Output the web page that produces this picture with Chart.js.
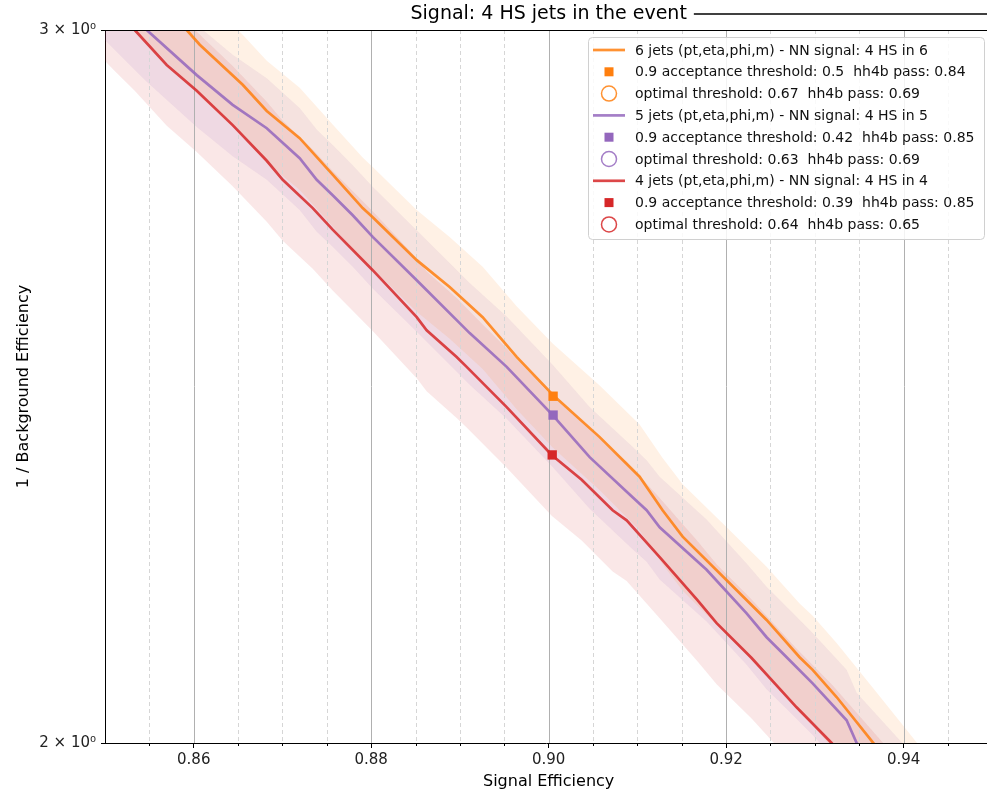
<!DOCTYPE html>
<html>
<head>
<meta charset="utf-8">
<script src="https://cdn.jsdelivr.net/npm/chart.js@4.4.1/dist/chart.umd.min.js"></script>
<style>
  html, body { margin: 0; padding: 0; background: #fff; }
</style>
</head>
<body>
<canvas id="roc" width="987" height="793"></canvas>
<script>
// ROC curves: 1/background efficiency vs signal efficiency, zoomed window

// ====== Axes ======
const X_MIN = 0.85;
const X_MAX = 0.9494;
const Y_MIN = 2;
const Y_MAX = 3;
const X_TICKS = [0.855, 0.86, 0.865, 0.87, 0.875, 0.88, 0.885, 0.89, 0.895, 0.9,
                 0.905, 0.91, 0.915, 0.92, 0.925, 0.93, 0.935, 0.94, 0.945];
const X_MAJOR = [0.86, 0.88, 0.9, 0.92, 0.94];
const Y_TICKS = [2, 3];

const TITLE = "Signal: 4 HS jets in the event";
const X_LABEL = "Signal Efficiency";
const Y_LABEL = "1 / Background Efficiency";

// ====== Series ======
// 6 jets
const EFF_6 = [0.85132, 0.85696, 0.85921, 0.86068, 0.86552, 0.86823, 0.87194, 0.87566, 0.87904,
               0.88017, 0.88513, 0.88884, 0.89256, 0.89639, 0.90045, 0.90575, 0.91025, 0.91284,
               0.91510, 0.92006, 0.92456, 0.92828, 0.92975, 0.93245, 0.93651, 0.94304];
const REJ_6 = [3.122, 3.034, 3.000, 2.975, 2.908, 2.865, 2.821, 2.763, 2.711,
               2.697, 2.632, 2.592, 2.548, 2.491, 2.438, 2.380, 2.327, 2.283,
               2.249, 2.194, 2.145, 2.100, 2.085, 2.053, 2.001, 1.920];
const ERR_6 = [0.091, 0.088, 0.087, 0.086, 0.084, 0.083, 0.082, 0.080, 0.079,
               0.078, 0.076, 0.075, 0.074, 0.073, 0.072, 0.071, 0.070, 0.069,
               0.068, 0.067, 0.066, 0.065, 0.065, 0.064, 0.063, 0.061];

// 5 jets
const EFF_5 = [0.84682, 0.85245, 0.85470, 0.86034, 0.86439, 0.86823, 0.87194, 0.87386, 0.87566,
               0.87792, 0.88017, 0.88513, 0.89110, 0.89527, 0.90045, 0.90462, 0.90946, 0.91104,
               0.91251, 0.91780, 0.92231, 0.92456, 0.92682, 0.92975, 0.93358, 0.93471, 0.94203];
const REJ_5 = [3.122, 3.034, 3.000, 2.924, 2.875, 2.837, 2.789, 2.755, 2.731,
               2.700, 2.667, 2.602, 2.525, 2.477, 2.410, 2.353, 2.300, 2.283,
               2.261, 2.207, 2.153, 2.124, 2.100, 2.069, 2.026, 2.000, 1.920];
const ERR_5 = [0.091, 0.088, 0.087, 0.085, 0.083, 0.082, 0.081, 0.080, 0.079,
               0.078, 0.077, 0.075, 0.073, 0.072, 0.070, 0.068, 0.067, 0.066,
               0.066, 0.064, 0.062, 0.062, 0.061, 0.060, 0.059, 0.058, 0.056];

// 4 jets
const EFF_4 = [0.84546, 0.85110, 0.85335, 0.85696, 0.86034, 0.86439, 0.86823, 0.87003, 0.87341,
               0.87566, 0.88017, 0.88513, 0.88625, 0.88963, 0.89076, 0.89527, 0.90034, 0.90372,
               0.90721, 0.90879, 0.91251, 0.91679, 0.91893, 0.92287, 0.92794, 0.93189, 0.93900];
const REJ_4 = [3.122, 3.034, 3.000, 2.941, 2.898, 2.842, 2.785, 2.755, 2.711,
               2.678, 2.617, 2.548, 2.529, 2.491, 2.477, 2.421, 2.356, 2.323,
               2.283, 2.270, 2.223, 2.169, 2.141, 2.099, 2.041, 2.000, 1.920];
const ERR_4 = [0.106, 0.103, 0.102, 0.100, 0.099, 0.097, 0.095, 0.094, 0.092,
               0.091, 0.089, 0.087, 0.086, 0.085, 0.084, 0.082, 0.080, 0.079,
               0.078, 0.077, 0.076, 0.074, 0.073, 0.071, 0.069, 0.068, 0.065];

// 0.9 acceptance working points (6, 5, 4 jets)
const WP_EFF = [0.9005, 0.9005, 0.9004];
const WP_REJ = [2.436, 2.410, 2.356];

const CURVE_LABELS = [
  "6 jets (pt,eta,phi,m) - NN signal: 4 HS in 6",
  "5 jets (pt,eta,phi,m) - NN signal: 4 HS in 5",
  "4 jets (pt,eta,phi,m) - NN signal: 4 HS in 4"
];
const WP_LABELS = [
  "0.9 acceptance threshold: 0.5  hh4b pass: 0.84",
  "0.9 acceptance threshold: 0.42  hh4b pass: 0.85",
  "0.9 acceptance threshold: 0.39  hh4b pass: 0.85"
];
const OPT_LABELS = [
  "optimal threshold: 0.67  hh4b pass: 0.69",
  "optimal threshold: 0.63  hh4b pass: 0.69",
  "optimal threshold: 0.64  hh4b pass: 0.65"
];

// tab:orange, tab:purple, tab:red
const RGB = ["255, 127, 14", "148, 103, 189", "214, 39, 40"];

const FONT = "'DejaVu Sans', sans-serif";

// ====== Build datasets ======
const curves = [
  { eff: EFF_6, rej: REJ_6, err: ERR_6 },
  { eff: EFF_5, rej: REJ_5, err: ERR_5 },
  { eff: EFF_4, rej: REJ_4, err: ERR_4 }
];

const datasets = [];

curves.forEach((c, k) => {
  const band = `rgba(${RGB[k]}, 0.11)`;
  datasets.push({
    label: "band hi " + k,
    data: c.eff.map((x, i) => ({ x, y: c.rej[i] + c.err[i] })),
    borderWidth: 0, pointRadius: 0, fill: false, order: 3,
    backgroundColor: band
  });
  datasets.push({
    label: "band lo " + k,
    data: c.eff.map((x, i) => ({ x, y: c.rej[i] - c.err[i] })),
    borderWidth: 0, pointRadius: 0, fill: "-1", order: 3,
    backgroundColor: band
  });
});

curves.forEach((c, k) => {
  datasets.push({
    label: CURVE_LABELS[k],
    data: c.eff.map((x, i) => ({ x, y: c.rej[i] })),
    borderColor: `rgba(${RGB[k]}, 0.85)`,
    borderWidth: 2.7,
    pointRadius: 0,
    fill: false,
    order: 2
  });
});

WP_EFF.forEach((x, k) => {
  datasets.push({
    label: WP_LABELS[k],
    data: [{ x, y: WP_REJ[k] }],
    showLine: false,
    pointStyle: "rect",
    pointRadius: 6.6,
    pointBorderWidth: 0,
    pointBackgroundColor: `rgb(${RGB[k]})`,
    order: 1
  });
  // optimal thresholds fall outside this zoomed window
  datasets.push({
    label: OPT_LABELS[k],
    data: [],
    showLine: false,
    pointStyle: "circle",
    order: 1
  });
});

const isMajor = (v) => X_MAJOR.some((m) => Math.abs(m - v) < 1e-9);

// ====== Decorations: grid, title, legend ======
const decor = {
  id: "decor",
  beforeDatasetsDraw(chart) {
    const { ctx, chartArea: a, scales: { x } } = chart;
    ctx.save();
    for (const v of X_TICKS) {
      const px = Math.round(x.getPixelForValue(v)) + 0.5;
      ctx.beginPath();
      if (isMajor(v)) {
        ctx.setLineDash([]);
        ctx.strokeStyle = "#b0b0b0";
      } else {
        ctx.setLineDash([4, 3]);
        ctx.strokeStyle = "#d6d6d6";
      }
      ctx.lineWidth = 1;
      ctx.moveTo(px, a.top);
      ctx.lineTo(px, a.bottom);
      ctx.stroke();
    }
    ctx.restore();
  },
  afterDraw(chart) {
    const { ctx, chartArea: a, scales: { x } } = chart;
    ctx.save();

    // minor tick marks
    ctx.strokeStyle = "#000";
    ctx.lineWidth = 1;
    for (const v of X_TICKS) {
      if (isMajor(v)) continue;
      const px = Math.round(x.getPixelForValue(v)) + 0.5;
      ctx.beginPath();
      ctx.moveTo(px, a.bottom);
      ctx.lineTo(px, a.bottom + 3);
      ctx.stroke();
    }

    // top spine
    ctx.beginPath();
    ctx.moveTo(a.left, a.top + 0.5);
    ctx.lineTo(a.right, a.top + 0.5);
    ctx.stroke();

    // title + rule after it
    const cx = (a.left + x.getPixelForValue(0.95)) / 2;
    ctx.fillStyle = "#000";
    ctx.font = `19px ${FONT}`;
    ctx.textAlign = "center";
    ctx.textBaseline = "middle";
    ctx.fillText(TITLE, cx, 14);
    const tw = ctx.measureText(TITLE).width;
    ctx.lineWidth = 1.5;
    ctx.beginPath();
    ctx.moveTo(cx + tw / 2 + 7, 14);
    ctx.lineTo(chart.width, 14);
    ctx.stroke();

    // axis titles
    ctx.font = `16px ${FONT}`;
    ctx.fillText(X_LABEL, cx, 782);
    ctx.save();
    ctx.translate(24, (a.top + a.bottom) / 2);
    ctx.rotate(-Math.PI / 2);
    ctx.fillText(Y_LABEL, 0, 0);
    ctx.restore();

    // legend
    const lx = 588.5, ly = 37.5, lw = 396, lh = 202, r = 4;
    ctx.beginPath();
    ctx.moveTo(lx + r, ly);
    ctx.arcTo(lx + lw, ly, lx + lw, ly + lh, r);
    ctx.arcTo(lx + lw, ly + lh, lx, ly + lh, r);
    ctx.arcTo(lx, ly + lh, lx, ly, r);
    ctx.arcTo(lx, ly, lx + lw, ly, r);
    ctx.closePath();
    ctx.fillStyle = "rgba(255,255,255,0.85)";
    ctx.fill();
    ctx.strokeStyle = "#d0d0d0";
    ctx.lineWidth = 1;
    ctx.stroke();

    ctx.font = `14px ${FONT}`;
    ctx.textAlign = "left";
    ctx.textBaseline = "middle";
    const rowH = 21.8;
    let row = 0;
    for (let k = 0; k < 3; k++) {
      const entries = [
        { kind: "line", text: CURVE_LABELS[k] },
        { kind: "square", text: WP_LABELS[k] },
        { kind: "circle", text: OPT_LABELS[k] }
      ];
      for (const e of entries) {
        const y = 50 + row * rowH;
        const hx = 609;
        if (e.kind === "line") {
          ctx.strokeStyle = `rgba(${RGB[k]}, 0.85)`;
          ctx.lineWidth = 2.7;
          ctx.beginPath();
          ctx.moveTo(hx - 16, y);
          ctx.lineTo(hx + 16, y);
          ctx.stroke();
        } else if (e.kind === "square") {
          ctx.fillStyle = `rgb(${RGB[k]})`;
          ctx.fillRect(hx - 4.5, y - 4.5, 9, 9);
        } else {
          ctx.strokeStyle = `rgba(${RGB[k]}, 0.85)`;
          ctx.lineWidth = 1.5;
          ctx.beginPath();
          ctx.arc(hx, y, 7.5, 0, Math.PI * 2);
          ctx.stroke();
        }
        ctx.fillStyle = "#111";
        ctx.fillText(e.text, 635, y + 1);
        row++;
      }
    }
    ctx.restore();
  }
};

// ====== Chart ======
new Chart(document.getElementById("roc").getContext("2d"), {
  type: "line",
  data: { datasets },
  options: {
    responsive: false,
    animation: false,
    layout: { autoPadding: false, padding: { top: 30, right: 0, left: 0, bottom: 0 } },
    plugins: {
      legend: { display: false },
      tooltip: { enabled: false },
      filler: { drawTime: "beforeDatasetsDraw" }
    },
    scales: {
      x: {
        type: "linear",
        min: X_MIN,
        max: X_MAX,
        afterBuildTicks: (s) => { s.ticks = X_TICKS.map((v) => ({ value: v })); },
        afterFit: (s) => { s.height = 50; s.paddingLeft = 0; s.paddingRight = 0; },
        ticks: {
          autoSkip: false,
          maxRotation: 0,
          padding: 3,
          color: "#222",
          font: { family: FONT, size: 15 },
          callback: (v) => (isMajor(v) ? v.toFixed(2) : "")
        },
        grid: {
          drawOnChartArea: false,
          drawTicks: true,
          tickLength: 5,
          tickColor: (c) => (c.tick && isMajor(c.tick.value) ? "#000" : "rgba(0,0,0,0)")
        },
        border: { color: "#000", width: 1 }
      },
      y: {
        type: "logarithmic",
        min: Y_MIN,
        max: Y_MAX,
        afterBuildTicks: (s) => { s.ticks = Y_TICKS.map((v) => ({ value: v })); },
        afterFit: (s) => { s.width = 105; s.paddingTop = 0; s.paddingBottom = 0; },
        ticks: {
          padding: 5,
          color: "#222",
          font: { family: FONT, size: 15 },
          callback: (v) => `${v} × 10\u2070`
        },
        grid: {
          drawOnChartArea: false,
          drawTicks: true,
          tickLength: 4,
          tickColor: "#000"
        },
        border: { color: "#000", width: 1 }
      }
    }
  },
  plugins: [decor]
});
</script>
</body>
</html>
